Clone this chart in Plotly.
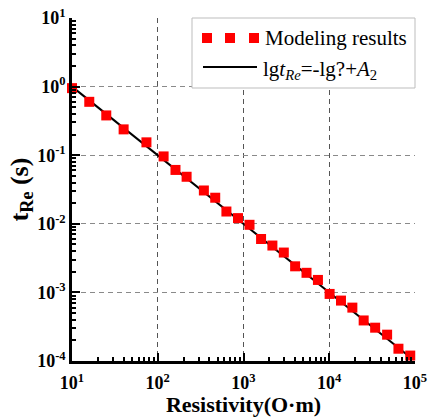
import plotly.graph_objects as go

# Modeling results: resistivity (Ohm·m) vs. characteristic time t_Re (s)
resistivity = [10, 15.9, 25.1, 40, 73.8, 117, 161, 217, 345, 468, 632, 863, 1175,
               1603, 2173, 2951, 4000, 5430, 7380, 10100, 13700, 18600, 25200,
               34300, 47300, 64100, 88000]
t_re = [0.95, 0.60, 0.38, 0.238, 0.154, 0.096, 0.061, 0.0485, 0.0306, 0.024,
        0.0151, 0.0121, 0.00967, 0.0060, 0.00482, 0.00381, 0.0024, 0.00193,
        0.00152, 0.00095, 0.00076, 0.0006, 0.00039, 0.000306, 0.000242,
        0.000151, 0.00012]

# Fitted relation lg t = -lg rho + A2, with A2 = 1
A2 = 1.0
fit_x = [10, 88000]
fit_y = [10 ** (A2) / x for x in fit_x]

x_ticks = [10, 100, 1000, 10000, 100000]
x_labels = ["10<sup>1</sup>", "10<sup>2</sup>", "10<sup>3</sup>", "10<sup>4</sup>", "10<sup>5</sup>"]
y_ticks = [10, 1, 0.1, 0.01, 0.001, 0.0001]
y_labels = ["10<sup>1</sup>", "10<sup>0</sup>", "10<sup>-1</sup>", "10<sup>-2</sup>",
            "10<sup>-3</sup>", "10<sup>-4</sup>"]

x_minor = [m * 10 ** e for e in range(1, 5) for m in range(2, 10)]
y_minor = [m * 10 ** e for e in range(-4, 1) for m in range(2, 10)]

SERIF = "Liberation Serif"
W, H = 428, 417
L, R, T, B = 72, 13, 18, 56
PW, PH = W - L - R, H - T - B


def px(xp):
    return (xp - L) / PW


def py(yp):
    return (H - B - yp) / PH


fig = go.Figure()
fig.add_trace(go.Scatter(x=fit_x, y=fit_y, mode="lines",
                         line=dict(color="black", width=2), showlegend=False))
fig.add_trace(go.Scatter(x=resistivity, y=t_re, mode="markers",
                         marker=dict(symbol="square", size=10, color="#ff0000",
                                     line=dict(width=0)),
                         showlegend=False, cliponaxis=False))

axis_common = dict(
    type="log", showline=True, linecolor="black", linewidth=2.5,
    ticks="inside", ticklen=8, tickwidth=2, tickcolor="black",
    tickfont=dict(family=SERIF, size=18, color="black", weight="bold"),
    showgrid=True, griddash="5px,4px", gridwidth=1,
    zeroline=False, mirror=False, automargin=False,
)

fig.update_xaxes(**axis_common, range=[1, 5], tickvals=x_ticks, ticktext=x_labels,
                 gridcolor="#555555", ticklabelstandoff=4,
                 minor=dict(ticks="inside", ticklen=4, tickwidth=1.5, tickcolor="black",
                            showgrid=False, tickvals=x_minor),
                 title=dict(text="<b>Resistivity(O·m)</b>",
                            font=dict(family=SERIF, size=22, color="black"), standoff=6))
fig.update_yaxes(**axis_common, range=[-4, 1], tickvals=y_ticks, ticktext=y_labels,
                 gridcolor="#8a8a8a",
                 minor=dict(ticks="inside", ticklen=4, tickwidth=1.5, tickcolor="black",
                            showgrid=False, tickvals=y_minor),
                 title=dict(text="<b>t<sub>Re</sub> (s)</b>",
                            font=dict(family=SERIF, size=26, color="black"), standoff=2))

# Legend panel
shapes = [
    dict(type="rect", xref="paper", yref="paper", x0=px(192), x1=px(415), y0=py(88), y1=py(18),
         fillcolor="white", line=dict(color="#bdbdbd", width=1), layer="above"),
    dict(type="line", xref="paper", yref="paper", x0=px(203), x1=px(257), y0=py(67), y1=py(67),
         line=dict(color="black", width=2), layer="above"),
]
for cx in (207, 230, 254):
    shapes.append(dict(type="rect", xref="paper", yref="paper",
                       x0=px(cx - 5), x1=px(cx + 5), y0=py(43), y1=py(33),
                       fillcolor="#ff0000", line=dict(width=0), layer="above"))

annotations = [
    dict(text="Modeling results", xref="paper", yref="paper", x=px(263), y=py(38),
         xanchor="left", yanchor="middle", showarrow=False,
         font=dict(family=SERIF, size=21, color="black")),
    dict(text="lg<i>t</i><sub><i>Re</i></sub>=-lg?+<i>A</i><sub>2</sub>",
         xref="paper", yref="paper", x=px(261), y=py(70),
         xanchor="left", yanchor="middle", showarrow=False,
         font=dict(family=SERIF, size=21, color="black")),
]

fig.update_layout(
    width=W, height=H,
    margin=dict(l=L, r=R, t=T, b=B),
    paper_bgcolor="white", plot_bgcolor="white",
    showlegend=False, shapes=shapes, annotations=annotations,
)

fig.write_html("out.html")
